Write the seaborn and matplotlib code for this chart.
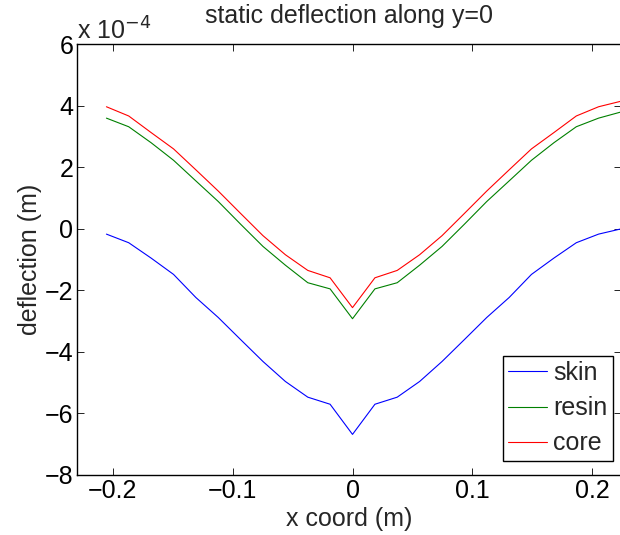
import numpy as np
import pandas as pd
import matplotlib
matplotlib.use("Agg")
import matplotlib.pyplot as plt
import seaborn as sns
from matplotlib.ticker import FuncFormatter, MultipleLocator

# node x coordinates (m)
x_coord = [-0.2053, -0.1867, -0.1680, -0.1493, -0.1307, -0.1120, -0.0933, -0.0747,
           -0.0560, -0.0373, -0.0187, 0.0, 0.0187, 0.0373, 0.0560, 0.0747, 0.0933,
           0.1120, 0.1307, 0.1493, 0.1680, 0.1867, 0.2053, 0.2240]

# deflection values in units of 1e-4 m
skin = [-0.17, -0.45, -0.95, -1.48, -2.23, -2.88, -3.60, -4.31, -4.96, -5.47, -5.70, -6.68,
        -5.70, -5.47, -4.96, -4.31, -3.60, -2.88, -2.23, -1.48, -0.95, -0.45, -0.17, 0.00]
resin = [3.60, 3.32, 2.80, 2.23, 1.56, 0.89, 0.15, -0.57, -1.18, -1.75, -1.95, -2.92,
         -1.95, -1.75, -1.18, -0.57, 0.15, 0.89, 1.56, 2.23, 2.80, 3.32, 3.60, 3.80]
core = [3.97, 3.67, 3.13, 2.60, 1.92, 1.23, 0.50, -0.22, -0.84, -1.35, -1.59, -2.56,
        -1.59, -1.35, -0.84, -0.22, 0.50, 1.23, 1.92, 2.60, 3.13, 3.67, 3.97, 4.15]
series_names = ["skin", "resin", "core"]
colors = ["#0000ff", "#008000", "#ff0000"]
scale = 1e-4

sns.set_theme(style="white")
plt.rcParams["font.family"] = ["Liberation Sans", "DejaVu Sans"]
plt.rcParams["axes.unicode_minus"] = True

rows = []
for name, vals in zip(series_names, [skin, resin, core]):
    for xv, yv in zip(x_coord, vals):
        rows.append({"x": xv, "deflection": yv * scale, "layer": name})
df = pd.DataFrame(rows)

FS = 18
fig = plt.figure(figsize=(6.2, 5.35), dpi=100)
W, H = 620, 535
left, right, top, bottom = 77.3, 621.0, 44.3, 475.0
ax = fig.add_axes([left / W, 1 - bottom / H, (right - left) / W, (bottom - top) / H])

sns.lineplot(data=df, x="x", y="deflection", hue="layer", hue_order=series_names,
             palette=colors, ax=ax, linewidth=0.8, sort=False, estimator=None)

ax.set_xlim(-0.2296, 0.2240)
ax.set_ylim(-8e-4, 6e-4)
ax.xaxis.set_major_locator(MultipleLocator(0.1))
ax.yaxis.set_major_locator(MultipleLocator(2e-4))

def xfmt(v, pos):
    if abs(v) < 1e-9:
        return "0"
    return ("%g" % v).replace("-", "\u2212")

def yfmt(v, pos):
    n = int(round(v / scale))
    return ("%d" % n).replace("-", "\u2212")

ax.xaxis.set_major_formatter(FuncFormatter(xfmt))
ax.yaxis.set_major_formatter(FuncFormatter(yfmt))

ax.tick_params(direction="in", length=5, width=0.6, colors="black", labelsize=FS,
               top=True, right=True, bottom=True, left=True, pad=3)
for s in ax.spines.values():
    s.set_color("black")
    s.set_linewidth(1.0)

ax.set_xlabel("x coord (m)", fontsize=FS, labelpad=3)
ax.set_ylabel("deflection (m)", fontsize=FS, labelpad=2)
ax.set_title("static deflection along y=0", fontsize=FS, pad=15)

ax.text(0.0, 1.0, "x 10$^{\u22124}$", transform=ax.transAxes, ha="left", va="bottom",
        fontsize=FS)

leg_r = (613 - left) / (right - left)
leg_b = (bottom - 461) / (bottom - top)
leg = ax.legend(loc="lower right", bbox_to_anchor=(leg_r, leg_b), fontsize=FS,
                frameon=True, fancybox=False, edgecolor="black", framealpha=1,
                borderaxespad=0, handlelength=1.55, handletextpad=0.25,
                borderpad=0.22, labelspacing=0.45)
leg.get_frame().set_linewidth(1.0)
for h in leg.get_lines():
    h.set_linewidth(0.8)

fig.savefig("out.png", dpi=100, facecolor="white")
